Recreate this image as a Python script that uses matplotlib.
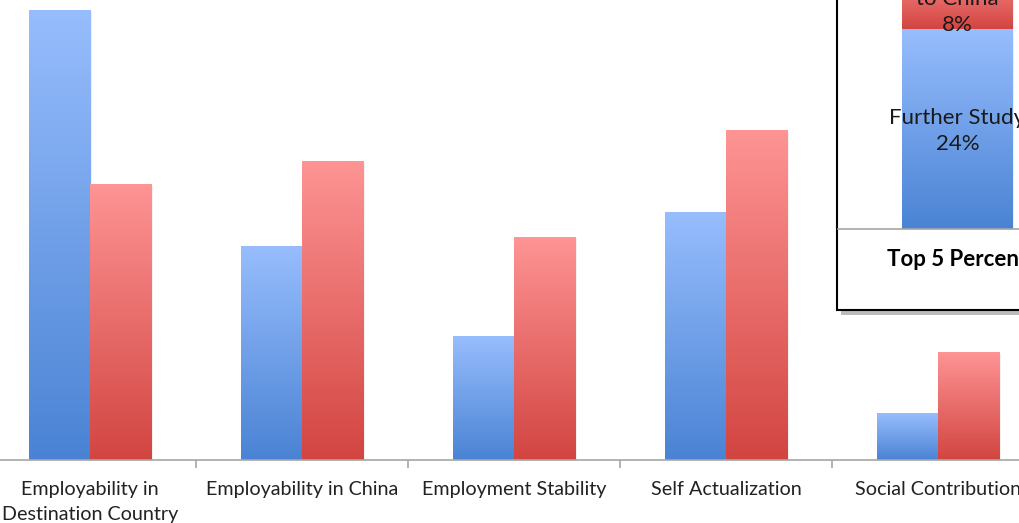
import matplotlib
matplotlib.use("Agg")
import matplotlib.pyplot as plt
import numpy as np
from matplotlib.colors import LinearSegmentedColormap
from matplotlib.patches import Rectangle

plt.rcParams['font.family'] = ['Lato', 'DejaVu Sans']

categories = ["Employability in\nDestination Country", "Employability in China",
              "Employment Stability", "Self Actualization", "Social Contribution"]
blue_vals = [45.0, 21.4, 12.4, 24.8, 4.6]
red_vals = [27.6, 29.9, 22.3, 33.0, 10.8]

# inset: post-graduation plans (stacked)
inset_labels = ["Further Study", "Return\nto China"]
inset_vals = [24, 8]

blue_cm = LinearSegmentedColormap.from_list("b", ["#4a83d4", "#97bdfd"])
red_cm = LinearSegmentedColormap.from_list("r", ["#d24541", "#fe9494"])
grad = np.linspace(0, 1, 256).reshape(-1, 1)

W, H = 1019, 523
fig = plt.figure(figsize=(W / 100, H / 100), dpi=100)


def px(x0, y0, x1, y1):
    # pixel box (top-left origin) -> figure fraction rect
    return [x0 / W, 1 - y1 / H, (x1 - x0) / W, (y1 - y0) / H]


def grad_bar(ax, x, w, bottom, h, cmap):
    ax.imshow(grad, cmap=cmap, origin="lower", aspect="auto",
              extent=[x, x + w, bottom, bottom + h], zorder=2)
    ax.add_patch(Rectangle((x + 0.01, bottom), w, h - 0.15, facecolor="#000000",
                           alpha=0.06, lw=0, zorder=1))


ax = fig.add_axes(px(-16, 0, 1044, 460))
w = 0.288
for i, (b, r) in enumerate(zip(blue_vals, red_vals)):
    grad_bar(ax, i - w, w, 0, b, blue_cm)
    grad_bar(ax, i, w, 0, r, red_cm)
ax.set_xlim(-0.5, 4.5)
ax.set_ylim(0, 46)
for s in ["top", "right", "left"]:
    ax.spines[s].set_visible(False)
ax.spines["bottom"].set_color("#a6a6a6")
ax.spines["bottom"].set_linewidth(1.2)
ax.set_yticks([])
ax.set_xticks(np.arange(-0.5, 5, 1))
ax.set_xticklabels([])
ax.tick_params(axis="x", length=6, color="#a6a6a6", width=1.2)
for i, c in enumerate(categories):
    fig.text((90 + 212 * i) / W, 1 - 481 / H, c, ha="center", va="top",
             fontsize=14.2, color="#222222", linespacing=1.55)

# inset box with shadow
fig.patches.append(Rectangle((841 / W, 1 - 315 / H), 400 / W, 320 / H,
                             transform=fig.transFigure, facecolor="#bbbbbb",
                             edgecolor="none", zorder=3))
fig.patches.append(Rectangle((837 / W, 1 - 310 / H), 400 / W, 320 / H,
                             transform=fig.transFigure, facecolor="white",
                             edgecolor="black", lw=1.5, zorder=4))

iax = fig.add_axes(px(838, -40, 1200, 229), zorder=5)
iax.patch.set_alpha(0)
bottom = 0
for v, cm in zip(inset_vals, [blue_cm, red_cm]):
    grad_bar(iax, 0, 1, bottom, v, cm)
    bottom += v
iax.set_xlim(-64 / 111, (1200 - 902) / 111)
iax.set_ylim(0, 24 * 269 / 200)
for s in ["top", "right", "left"]:
    iax.spines[s].set_visible(False)
iax.spines["bottom"].set_color("#a6a6a6")
iax.spines["bottom"].set_linewidth(1.2)
iax.set_xticks([])
iax.set_yticks([])
iax.text(0.5, 11.8, f"{inset_labels[0]}\n{inset_vals[0]}%", ha="center", va="center",
         fontsize=16, color="#1a1a1a", linespacing=1.38, zorder=6)
iax.text(0.5, 24 + 3.6, f"{inset_labels[1]}\n{inset_vals[1]}%", ha="center", va="center",
         fontsize=16, color="#1a1a1a", linespacing=1.38, zorder=6)
fig.text(887 / W, 1 - 260 / H, "Top 5 Percentages", ha="left", va="center",
         fontsize=16, fontweight="bold", color="black", zorder=6)

fig.savefig("out.png", dpi=100)
